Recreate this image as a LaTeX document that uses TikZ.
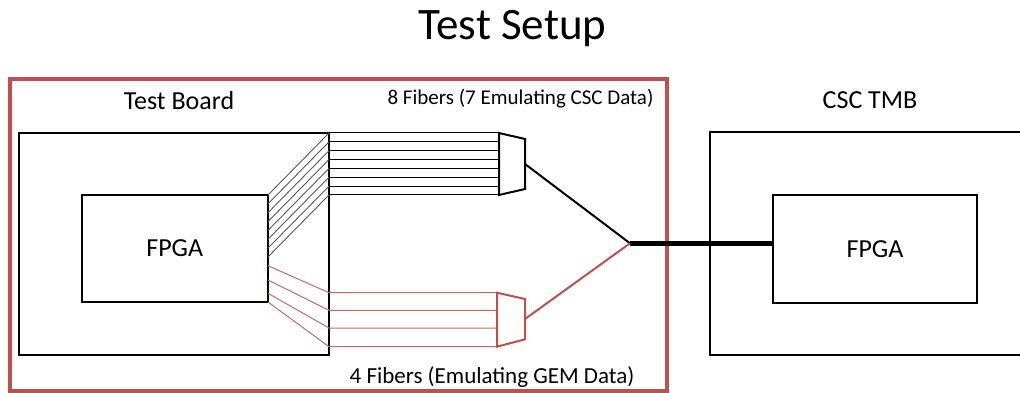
\documentclass[tikz,border=0pt]{standalone}
\usepackage{fontspec}
\setmainfont{Carlito}
\usetikzlibrary{calc}
\definecolor{boardred}{HTML}{C0504D}
\begin{document}
\begin{tikzpicture}[x=1pt,y=-1pt,
  box/.style={draw=black,line width=2pt,rectangle,inner sep=0pt,outer sep=0pt},
  lbl/.style={inner sep=0pt,anchor=base,text=black},
  fiber/.style={line width=1pt,black},
  hatch/.style={line width=0.9pt,black!65},
  rfiber/.style={line width=1pt,boardred!85},
  conn/.style={line width=2pt,line join=miter},
  thickline/.style={line width=4.5pt,black}
]
\useasboundingbox (0,0) rectangle (1020,393);
% title
\node[lbl,font=\fontsize{45}{54}\selectfont] (title) at (512.5,39.3) {Test Setup};
% red test board frame
\node[draw=boardred,line width=4pt,rectangle,inner sep=0pt,minimum width=657pt,minimum height=311.5pt] (frame) at (338.5,235.25) {};
\node[lbl,font=\fontsize{26}{30}\selectfont] (tblabel) at (179,109.3) {Test Board};
\node[box,minimum width=310pt,minimum height=222pt] (tb) at (174,244) {};
\node[box,minimum width=186.5pt,minimum height=107pt,font=\fontsize{26}{30}\selectfont] (fpgaL) at (174.75,248.5) {FPGA};
% right side
\node[lbl,font=\fontsize{26}{30}\selectfont] (tmblabel) at (870,108.3) {CSC TMB};
\node[box,minimum width=320pt,minimum height=222.5pt] (tmb) at (870,243.75) {};
\node[box,minimum width=204pt,minimum height=107.5pt,font=\fontsize{26}{30}\selectfont] (fpgaR) at (875,248.75) {FPGA};
% connectors (coordinates)
\coordinate (c1a) at (499,133);
\coordinate (c1b) at (525,139);
\coordinate (c1c) at (525,189);
\coordinate (c1d) at (499,195);
\coordinate (c1m) at (525,164);
\coordinate (c2a) at (497,292.7);
\coordinate (c2b) at (525,299);
\coordinate (c2c) at (525,339.3);
\coordinate (c2d) at (497,346.7);
\coordinate (c2m) at (525,319);
\coordinate (j) at (630,243.3);
% black fibers: diagonal + horizontal
\foreach \i in {0,...,7}{
  \draw[hatch] ($(fpgaL.north east)+(0,8.85*\i)$) -- ($(tb.north east)+(0,8.85*\i)$);
  \draw[fiber] ($(tb.north east)+(0,8.85*\i)$) -- ($(c1a)+(0,8.85*\i)$);
}
% red fibers
\foreach \ya/\yb in {265.7/292.7, 280/310.3, 293.3/328, 302/346.7}{
  \draw[rfiber] (fpgaL.east |- 0,\ya) -- (tb.east |- 0,\yb) -- (c2a |- 0,\yb);
}
% connector shells
\draw[conn,black] (c1a) -- (c1b) -- (c1c) -- (c1d) -- cycle;
\draw[conn,boardred] (c2a) -- (c2b) -- (c2c) -- (c2d) -- cycle;
% merge lines
\draw[line width=2pt,black] (c1m) -- (j);
\draw[line width=2pt,boardred] (c2m) -- (j);
\draw[thickline] (j) -- (j -| fpgaR.west);
% bottom label
\node[lbl,font=\fontsize{23}{27}\selectfont] (gemlabel) at (492,383.3) {4 Fibers (Emulating GEM Data)};
\node[lbl,font=\fontsize{21}{25}\selectfont] (csclabel) at (520.5,105) {8 Fibers (7 Emulating CSC Data)};
\end{tikzpicture}
\end{document}
